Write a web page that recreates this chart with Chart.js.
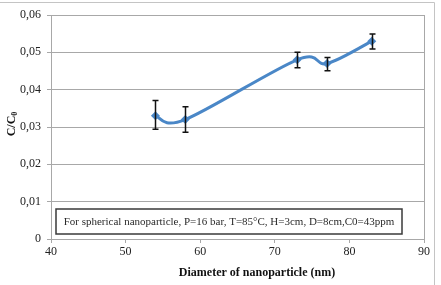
<!DOCTYPE html>
<html>
<head>
<meta charset="utf-8">
<script src="https://cdn.jsdelivr.net/npm/chart.js@4/dist/chart.umd.min.js"></script>
<style>
  html, body { margin: 0; padding: 0; background: #fff; }
  #wrap { width: 441px; height: 285px; position: relative; }
</style>
</head>
<body>
<div id="wrap"><canvas id="chart"></canvas></div>
<script>
"use strict";

// diameter (nm) vs C/C0, with error bar ends
const diameters = [54, 58, 73, 77, 83];
const ratios    = [0.033, 0.032, 0.048, 0.047, 0.053];
const errHigh   = [0.0371, 0.0354, 0.0500, 0.0486, 0.0549];
const errLow    = [0.0294, 0.0286, 0.0459, 0.0451, 0.0509];

const xTitle = "Diameter of nanoparticle (nm)";
const noteText = "For spherical nanoparticle, P=16 bar, T=85°C, H=3cm, D=8cm,C0=43ppm";

const BLUE = "#4a87c7";
const GRID = "#a8a8a8";
const SERIF = "'Liberation Serif', 'DejaVu Serif', serif";

Chart.defaults.font.family = SERIF;

// Excel-style smoothing: control points = neighbour difference / 6
const excelSmooth = {
  id: "excelSmooth",
  beforeDatasetDraw(chart, args) {
    const line = args.meta.dataset;
    const pts = args.meta.data;
    const n = pts.length;
    for (let i = 0; i < n; i++) {
      const p = pts[i];
      const prev = pts[Math.max(i - 1, 0)];
      const next = pts[Math.min(i + 1, n - 1)];
      const dx = (next.x - prev.x) / 6, dy = (next.y - prev.y) / 6;
      p.cp1x = p.x - dx; p.cp1y = p.y - dy;
      p.cp2x = p.x + dx; p.cp2y = p.y + dy;
    }
    line._pointsUpdated = true;
    line._path = undefined;
  }
};

// error bars, border, note box, axis titles
const extras = {
  id: "extras",
  afterDatasetsDraw(chart) {
    const { ctx, chartArea: a, scales: { x, y } } = chart;
    ctx.save();

    // right border of plot area
    ctx.strokeStyle = GRID;
    ctx.lineWidth = 1;
    ctx.beginPath();
    ctx.moveTo(a.right + 0.5, a.top);
    ctx.lineTo(a.right + 0.5, a.bottom);
    ctx.stroke();

    // outer frame (top + right)
    ctx.strokeStyle = "#c4c4c4";
    ctx.beginPath();
    ctx.moveTo(0, 2.5);
    ctx.lineTo(434.5, 2.5);
    ctx.lineTo(434.5, 285);
    ctx.stroke();

    // error bars
    ctx.strokeStyle = "#111";
    ctx.lineWidth = 1.5;
    diameters.forEach((d, i) => {
      const px = Math.round(x.getPixelForValue(d)) + 0.5;
      const hi = y.getPixelForValue(errHigh[i]);
      const lo = y.getPixelForValue(errLow[i]);
      ctx.beginPath();
      ctx.moveTo(px, hi); ctx.lineTo(px, lo);
      ctx.moveTo(px - 3, hi); ctx.lineTo(px + 3, hi);
      ctx.moveTo(px - 3, lo); ctx.lineTo(px + 3, lo);
      ctx.stroke();
    });

    // note box
    const bx = 56, by = 209, bw = 346, bh = 25;
    ctx.fillStyle = "#fff";
    ctx.fillRect(bx, by, bw, bh);
    ctx.strokeStyle = "#3a3a3a";
    ctx.lineWidth = 1.5;
    ctx.strokeRect(bx, by, bw, bh);
    ctx.fillStyle = "#2a2a2a";
    ctx.font = "11px " + SERIF;
    ctx.textAlign = "center";
    ctx.textBaseline = "middle";
    ctx.fillText(noteText, bx + bw / 2, by + bh / 2 + 1);

    // x axis title
    ctx.fillStyle = "#111";
    ctx.font = "bold 12px " + SERIF;
    ctx.fillText(xTitle, 257, 273);

    // y axis title C/C0 with subscript
    ctx.translate(12, 124);
    ctx.rotate(-Math.PI / 2);
    ctx.textAlign = "left";
    ctx.font = "bold 12px " + SERIF;
    const main = "C/C";
    const w1 = ctx.measureText(main).width;
    ctx.font = "bold 8px " + SERIF;
    const w2 = ctx.measureText("0").width;
    const start = -(w1 + w2) / 2;
    ctx.font = "bold 12px " + SERIF;
    ctx.fillText(main, start, 0);
    ctx.font = "bold 8px " + SERIF;
    ctx.fillText("0", start + w1, 3);

    ctx.restore();
  }
};

new Chart(document.getElementById("chart"), {
  type: "line",
  data: {
    datasets: [{
      data: diameters.map((d, i) => ({ x: d, y: ratios[i] })),
      borderColor: BLUE,
      backgroundColor: BLUE,
      borderWidth: 3,
      tension: 0.4,
      pointStyle: "rectRot",
      pointRadius: 4.5,
      pointBorderWidth: 0,
      fill: false
    }]
  },
  options: {
    responsive: true,
    maintainAspectRatio: false,
    animation: false,
    layout: { padding: { top: 15, right: 17, left: 0, bottom: 0 } },
    plugins: { legend: { display: false }, tooltip: { enabled: false } },
    scales: {
      x: {
        type: "linear",
        min: 40, max: 90,
        ticks: { stepSize: 10, color: "#222", font: { family: SERIF, size: 12 }, padding: 2 },
        grid: { drawOnChartArea: false, drawTicks: true, tickLength: 4, color: GRID },
        border: { display: true, color: GRID, width: 1 },
        afterFit: s => { s.height = 46; }
      },
      y: {
        min: 0, max: 0.06,
        ticks: {
          stepSize: 0.01, color: "#222", padding: 6,
          font: { family: SERIF, size: 12 },
          callback: v => v === 0 ? "0" : v.toFixed(2).replace(".", ",")
        },
        grid: { color: GRID, tickLength: 4, lineWidth: 1 },
        border: { display: true, color: GRID, width: 1 },
        afterFit: s => { s.width = 51; }
      }
    }
  },
  plugins: [excelSmooth, extras]
});
</script>
</body>
</html>
